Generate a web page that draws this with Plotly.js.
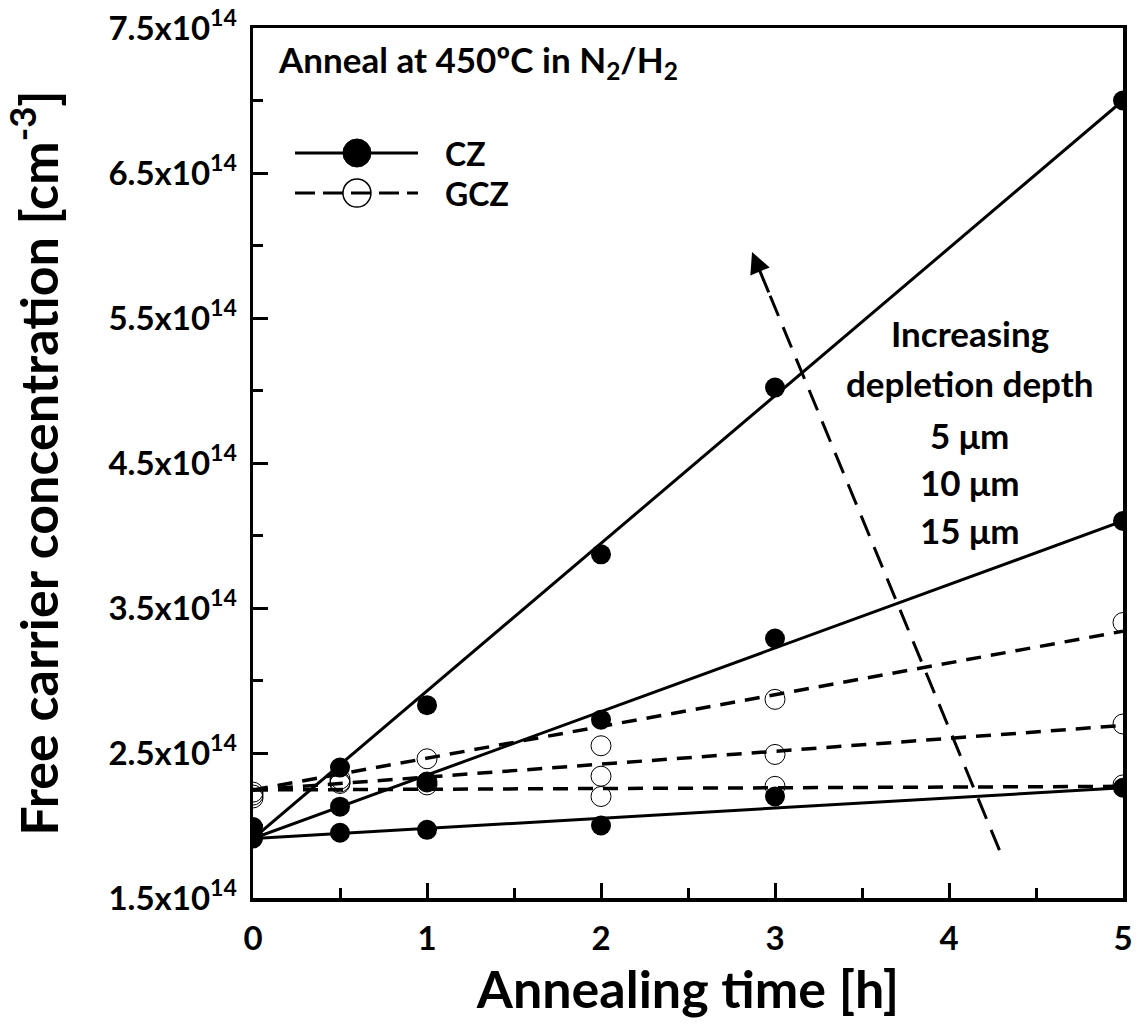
<!DOCTYPE html>
<html>
<head>
<meta charset="utf-8">
<script src="https://cdn.plot.ly/plotly-3.0.1.min.js"></script>
<style>html,body{margin:0;padding:0;background:#fff;}#chart{width:1144px;height:1026px;}</style>
</head>
<body>
<div id="chart"></div>
<script>
// ---- data (concentration in units of 1e14 cm^-3) ----
const time = [0, 0.5, 1, 2, 3, 5];
const cz5um  = [1.91, 1.95, 1.97, 2.00, 2.20, 2.26];
const cz10um = [1.93, 2.13, 2.30, 2.73, 3.29, 4.10];
const cz15um = [1.99, 2.40, 2.83, 3.87, 5.02, 7.00];
const gcz5um  = [2.19, 2.29, 2.28, 2.20, 2.27, 2.28];
const gcz10um = [2.21, 2.30, 2.30, 2.34, 2.49, 2.70];
const gcz15um = [2.23, 2.32, 2.46, 2.55, 2.87, 3.40];

// linear fit lines (start at t=0, end at t=5)
const fitTime = [0, 5];
const czFit5um  = [1.91, 2.26];
const czFit10um = [1.91, 4.10];
const czFit15um = [1.91, 7.00];
const gczFit5um  = [2.245, 2.27];
const gczFit10um = [2.245, 2.69];
const gczFit15um = [2.245, 3.34];

const yTickVals = [1.5, 2.5, 3.5, 4.5, 5.5, 6.5, 7.5];
const yTickText = ['1.5x10<sup>14</sup>','2.5x10<sup>14</sup>','3.5x10<sup>14</sup>','4.5x10<sup>14</sup>','5.5x10<sup>14</sup>','6.5x10<sup>14</sup>','7.5x10<sup>14</sup>'];
const xTickVals = [0, 1, 2, 3, 4, 5];

const seriesNames = ['CZ', 'GCZ'];
const depthLabels = ['Increasing', 'depletion depth', '5 \u03bcm', '10 \u03bcm', '15 \u03bcm'];
const arrowTail = [4.29, 1.83];
const arrowHead = [2.868, 5.955];

// ---- styles ----
const FONT = 'Lato, "Open Sans", sans-serif';
const black = '#000';

function fitTrace(y, dashed) {
  return {x: fitTime, y: y, mode: 'lines', showlegend: false, hoverinfo: 'skip',
    line: {color: black, width: dashed ? 3.5 : 3, dash: dashed ? '15px,10px' : 'solid'}};
}
function ptTrace(y, open) {
  return {x: time, y: y, mode: 'markers', showlegend: false,
    marker: open ? {symbol: 'circle-open', size: 20, color: black, line: {width: 1, color: black}}
                 : {symbol: 'circle', size: 20, color: black}};
}

// dashed arrow body stops just before the head
const fracBack = 0.07;
const arrowNeck = [arrowHead[0] + (arrowTail[0]-arrowHead[0])*fracBack, arrowHead[1] + (arrowTail[1]-arrowHead[1])*fracBack];

const traces = [
  fitTrace(czFit5um, false), fitTrace(czFit10um, false), fitTrace(czFit15um, false),
  fitTrace(gczFit5um, true), fitTrace(gczFit10um, true), fitTrace(gczFit15um, true),
  ptTrace(gcz5um, true), ptTrace(gcz10um, true), ptTrace(gcz15um, true),
  ptTrace(cz5um, false), ptTrace(cz10um, false), ptTrace(cz15um, false),
  {x: [arrowTail[0], arrowNeck[0]], y: [arrowTail[1], arrowNeck[1]], mode: 'lines', showlegend: false, hoverinfo: 'skip',
   line: {color: black, width: 3, dash: '22px,12px'}}
];

const depthY = [0.649, 0.592, 0.532, 0.478, 0.423];
const annotations = depthLabels.map((t, i) => ({
  xref: 'paper', yref: 'paper', x: 0.824, y: depthY[i], text: '<b>' + t + '</b>', showarrow: false,
  xanchor: 'center', yanchor: 'middle', font: {family: FONT, size: 35, color: black}
}));
annotations.push({
  xref: 'paper', yref: 'paper', x: 0.026, y: 0.962, xanchor: 'left', yanchor: 'middle', showarrow: false,
  text: '<b>Anneal at 450\u00baC in N<sub>2</sub>/H<sub>2</sub></b>', font: {family: FONT, size: 35, color: black}
});
annotations.push({
  xref: 'x', yref: 'y', axref: 'x', ayref: 'y', x: arrowHead[0], y: arrowHead[1], ax: arrowNeck[0], ay: arrowNeck[1],
  text: '', showarrow: true, arrowhead: 2, arrowsize: 1.4, arrowwidth: 3, arrowcolor: black, standoff: 0, startstandoff: 0
});

// ---- hand-drawn legend (paper coordinates) ----
const legX0 = 0.0483, legX1 = 0.1897, legMarkX = 0.1195, legR = 0.0161, legTextX = 0.2184;
const legY = [0.8563, 0.8103];
const shapes = [
  {type: 'line', xref: 'paper', yref: 'paper', x0: legX0, x1: legX1, y0: legY[0], y1: legY[0], line: {color: black, width: 3}},
  {type: 'circle', xref: 'paper', yref: 'paper', x0: legMarkX-legR, x1: legMarkX+legR, y0: legY[0]-legR, y1: legY[0]+legR,
   fillcolor: black, line: {color: black, width: 1}},
  {type: 'line', xref: 'paper', yref: 'paper', x0: legX0, x1: legX1, y0: legY[1], y1: legY[1], line: {color: black, width: 3, dash: '20px,8px'}},
  {type: 'circle', xref: 'paper', yref: 'paper', x0: legMarkX-legR, x1: legMarkX+legR, y0: legY[1]-legR, y1: legY[1]+legR,
   fillcolor: 'rgba(0,0,0,0)', line: {color: black, width: 1.5}}
];
seriesNames.forEach((n, i) => annotations.push({
  xref: 'paper', yref: 'paper', x: legTextX, y: legY[i], xanchor: 'left', yanchor: 'middle', showarrow: false,
  text: '<b>' + n + '</b>', font: {family: FONT, size: 32, color: black}
}));

const axisCommon = {
  showgrid: false, zeroline: false, showline: true, linecolor: black, linewidth: 3.5, mirror: true,
  ticks: 'inside', ticklen: 15, tickwidth: 3, tickcolor: black,
  tickfont: {family: FONT, size: 33, color: black, weight: 'bold'}
};

const layout = {
  width: 1144, height: 1026,
  margin: {l: 253, r: 21, t: 28, b: 128},
  paper_bgcolor: '#fff', plot_bgcolor: '#fff',
  font: {family: FONT, color: black},
  showlegend: false,
  xaxis: Object.assign({}, axisCommon, {
    range: [0, 5], tickvals: xTickVals, ticktext: xTickVals.map(String),
    minor: {dtick: 0.5, ticks: 'inside', ticklen: 10, tickwidth: 3, tickcolor: black},
    ticklabelstandoff: 9,
    title: {text: '<b>Annealing time [h]</b>', font: {family: FONT, size: 52, color: black}, standoff: 10}
  }),
  yaxis: Object.assign({}, axisCommon, {
    range: [1.5, 7.5], tickvals: yTickVals, ticktext: yTickText,
    minor: {tickvals: [2, 3, 4, 5, 6, 7], ticks: 'inside', ticklen: 10, tickwidth: 3, tickcolor: black},
    ticklabelstandoff: 6,
    title: {text: '<b>Free carrier concentration [cm<sup>-3</sup>]</b>', font: {family: FONT, size: 52, color: black}, standoff: 38}
  }),
  shapes: shapes,
  annotations: annotations
};

Plotly.newPlot('chart', traces, layout, {displayModeBar: false, staticPlot: true});
</script>
</body>
</html>
